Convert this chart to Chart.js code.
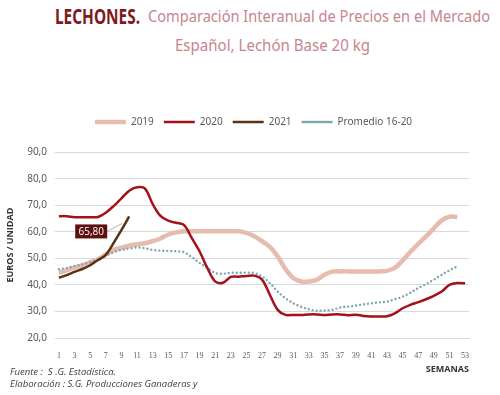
<!DOCTYPE html>
<html>
<head>
<meta charset="utf-8">
<script src="https://cdn.jsdelivr.net/npm/chart.js@4.4.0/dist/chart.umd.min.js"></script>
<style>
  body { margin: 0; background: #fff; }
  #wrap { position: relative; width: 500px; height: 395px; overflow: hidden; }
  #chart { position: absolute; left: 0; top: 0; }
  .head { position: absolute; white-space: nowrap; transform-origin: left top;
          font-family: "Noto Sans", sans-serif; color: #c7858c; font-size: 17px; line-height: 20px; }
  #h1a { color: #7d1a22; font-size: 22px; font-weight: bold; line-height: 24px; }
  .note { position: absolute; left: 10px; font-family: "Open Sans", sans-serif; font-style: italic;
          font-size: 9.5px; line-height: 13px; color: #404040; white-space: nowrap; }
</style>
</head>
<body>
<div id="wrap">
  <span class="head" id="h1a" style="top:3px">LECHONES.</span>
  <span class="head" id="h1b" style="top:6px">Comparación Interanual de Precios en el Mercado</span>
  <span class="head" id="h2" style="top:35px">Español, Lechón Base 20 kg</span>
  <canvas id="chart" width="500" height="395"></canvas>
  <div class="note" style="top:365px">Fuente :&nbsp; S .G. Estadística.</div>
  <div class="note" style="top:377px">Elaboración : S.G. Producciones Ganaderas y</div>
</div>
<script>
// Semanas 1..53
const weeks = Array.from({ length: 53 }, (_, i) => String(i + 1));

const serie2019 = [44.5, 45.5, 46.5, 47.5, 48.5, 49.7, 51.5, 53.2, 54.0, 54.8,
    55.3, 55.7, 56.5, 57.5, 59.0, 59.8, 60.2, 60.2, 60.2, 60.2,
    60.2, 60.2, 60.2, 60.2, 59.6, 58.3, 56.5, 54.3, 50.8, 46.0,
    42.6, 41.3, 41.3, 41.9, 43.8, 45.0, 45.1, 45.1, 45.1, 45.1,
    45.1, 45.1, 45.3, 46.4, 49.2, 52.5, 55.5, 58.3, 61.3, 64.3,
    65.7, 65.6];

const serie2020 = [65.9, 65.9, 65.5, 65.5, 65.5, 65.6, 67.2, 69.7, 72.6, 75.5,
    76.8, 76.4, 70.5, 66.0, 64.2, 63.4, 62.6, 57.7, 52.7, 46.4,
    41.3, 40.8, 43.0, 43.1, 43.4, 43.5, 42.0, 36.3, 30.6, 28.7,
    28.7, 28.7, 28.9, 28.9, 28.7, 28.9, 28.9, 28.6, 28.8, 28.3,
    28.1, 28.1, 28.2, 29.3, 31.2, 32.5, 33.5, 34.6, 35.9, 37.5,
    40.0, 40.7, 40.6];

const serie2021 = [42.7, 43.7, 44.9, 46.0, 47.4, 49.4, 51.3, 55.8, 60.6, 65.8];

const promedio = [45.9, 46.4, 47.1, 47.7, 48.6, 49.6, 50.9, 52.3, 53.2, 53.7,
    54.1, 53.8, 53.2, 52.9, 52.8, 52.7, 52.3, 50.5, 48.3, 46.4,
    44.5, 44.2, 44.6, 44.6, 44.6, 44.5, 43.2, 40.7, 37.5, 35.0,
    33.1, 31.8, 30.8, 30.3, 30.4, 30.6, 31.5, 31.8, 32.2, 32.7,
    33.1, 33.4, 33.7, 34.6, 35.6, 37.1, 38.8, 40.3, 42.0, 43.8,
    45.5, 47.0];

const fmt = v => v.toFixed(1).replace('.', ',');

// Squeeze the heading pieces to the condensed width of the original
function fitText(id, left, width) {
    const el = document.getElementById(id);
    const w = el.getBoundingClientRect().width;
    el.style.left = left + 'px';
    el.style.transform = 'scaleX(' + (width / w) + ')';
}
fitText('h1a', 55, 85);
fitText('h1b', 148, 342);
fitText('h2', 175, 195);

// Legend sits a bit right of the canvas centre in the original
const legendShift = {
    id: 'legendShift',
    afterLayout(chart) {
        chart.legend.left += 19;
        chart.legend.right += 19;
    }
};

// Etiqueta del ultimo dato de 2021
const lastLabel = {
    id: 'lastLabel',
    afterDatasetsDraw(chart) {
        const meta = chart.getDatasetMeta(2);
        const pt = meta.data[serie2021.length - 1];
        const ctx = chart.ctx;
        const bx = pt.x - 54, by = pt.y + 8, bw = 32, bh = 14;
        ctx.save();
        ctx.strokeStyle = '#a6a6a6';
        ctx.lineWidth = 0.8;
        ctx.beginPath();
        ctx.moveTo(bx + bw, by + bh / 2);
        ctx.lineTo(pt.x - 7, pt.y + 7);
        ctx.stroke();
        ctx.fillStyle = '#5e1010';
        ctx.fillRect(bx, by, bw, bh);
        ctx.fillStyle = '#ffffff';
        ctx.font = '10px "Open Sans", sans-serif';
        ctx.textAlign = 'center';
        ctx.textBaseline = 'middle';
        ctx.fillText(serie2021[serie2021.length - 1].toFixed(2).replace('.', ','), bx + bw / 2, by + bh / 2 + 0.5);
        ctx.restore();
    }
};

new Chart(document.getElementById('chart').getContext('2d'), {
    type: 'line',
    data: {
        labels: weeks,
        datasets: [
            { label: '2019', data: serie2019, borderColor: '#e6bcae', backgroundColor: '#e6bcae',
              borderWidth: 4.5, order: 3 },
            { label: '2020', data: serie2020, borderColor: '#a3121c', backgroundColor: '#a3121c',
              borderWidth: 2.5, order: 0 },
            { label: '2021', data: serie2021, borderColor: '#5c3214', backgroundColor: '#5c3214',
              borderWidth: 2.5, order: 1 },
            { label: 'Promedio 16-20', data: promedio, borderColor: '#7fa6ad', backgroundColor: '#7fa6ad',
              borderWidth: 2.4, borderDash: [0, 4], borderCapStyle: 'round', order: 2 }
        ]
    },
    options: {
        responsive: false,
        animation: false,
        layout: { padding: { top: 107, left: 0, right: 31, bottom: 0 } },
        elements: {
            point: { radius: 0 },
            line: { tension: 0.35 }
        },
        plugins: {
            legend: {
                labels: {
                    usePointStyle: true,
                    pointStyle: 'line',
                    pointStyleWidth: 31,
                    padding: 10,
                    color: '#595959',
                    font: { size: 10, family: '"Noto Sans", sans-serif' },
                    sort: (a, b) => a.datasetIndex - b.datasetIndex
                }
            },
            title: { display: true, text: '', weight: 500, padding: { top: 0, bottom: 14 }, font: { size: 1 } },
            tooltip: { enabled: false }
        },
        scales: {
            x: {
                offset: true,
                grid: { display: false },
                border: { color: '#d9d9d9' },
                ticks: {
                    autoSkip: false, maxRotation: 0, padding: 5, color: '#595959',
                    font: { size: 8, family: '"Liberation Serif", serif' },
                    callback: function (v, i) { return i % 2 === 0 ? this.getLabelForValue(v) : ''; }
                },
                title: { display: true, text: 'SEMANAS', align: 'end', color: '#333333',
                         font: { size: 9, weight: 'bold', family: '"Open Sans", sans-serif' },
                         padding: { top: 0, bottom: 20 } },
                afterFit: s => { s.height = 57; }
            },
            y: {
                min: 20, max: 90,
                grid: { color: '#d9d9d9', drawTicks: false },
                border: { display: false },
                ticks: { stepSize: 10, padding: 8, color: '#595959',
                         font: { size: 10, family: '"Noto Sans", sans-serif' }, callback: v => fmt(v) },
                title: { display: true, text: 'EUROS / UNIDAD', color: '#333333',
                         font: { size: 9, weight: 'bold', family: '"Open Sans", sans-serif' },
                         padding: { top: 5, bottom: 0 } },
                afterFit: s => { s.width = 55; }
            }
        }
    },
    plugins: [lastLabel, legendShift]
});
</script>
</body>
</html>
